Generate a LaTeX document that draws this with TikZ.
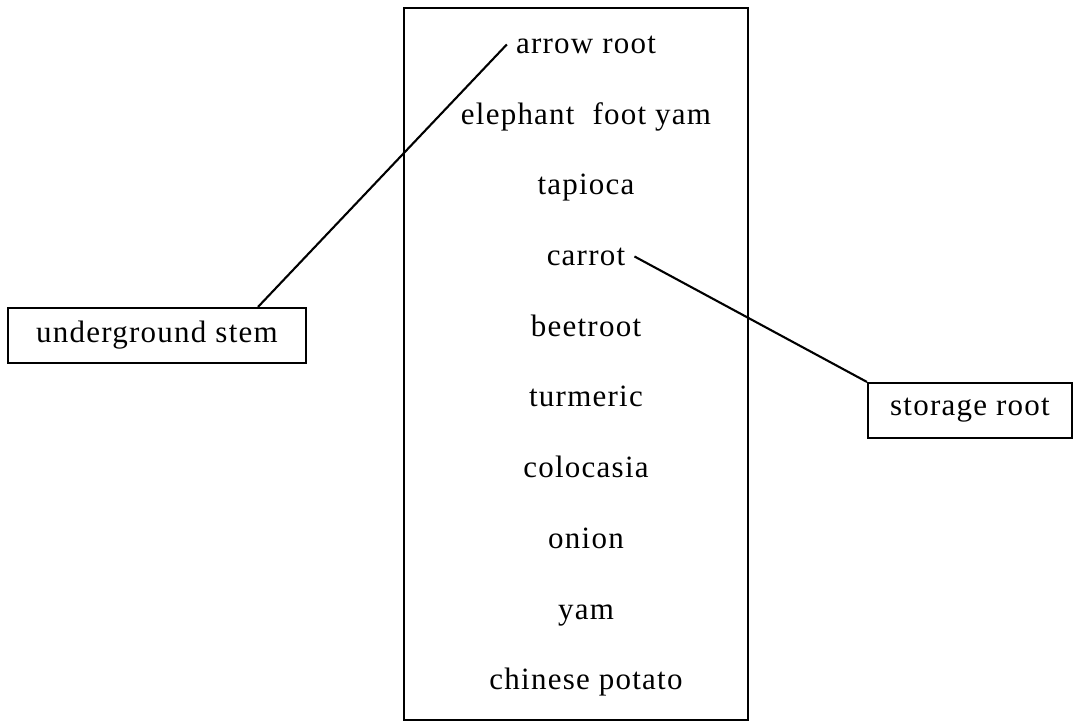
\documentclass[tikz,border=0pt]{standalone}
\usepackage{fontspec}
\setmainfont{Liberation Serif}[LetterSpace=4]
\usepackage{tikz}

\tikzset{
    item/.style={anchor=base,font=\fontsize{31}{37}\selectfont,inner sep=9pt},
    tag/.style={draw,line width=2.1pt,font=\fontsize{31}{37}\selectfont,minimum height=55pt,inner sep=0pt},
    link/.style={line width=2.1pt}
}

\begin{document}
\begin{tikzpicture}[x=1pt,y=-1pt]
    \useasboundingbox (0,0) rectangle (1075,724);
    \node[draw,line width=2.1pt,minimum width=344pt,minimum height=712pt] (list) at (576,364) {};
    \node[item] (arrowroot) at (586,53) {arrow root};
    \node[item] (eyam) at (586,124) {elephant\ \ foot yam};
    \node[item] (tapioca) at (586,194) {tapioca};
    \node[item] (carrot) at (586,265) {carrot};
    \node[item] (beetroot) at (586,336) {beetroot};
    \node[item] (turmeric) at (586,406) {turmeric};
    \node[item] (colocasia) at (586,477) {colocasia};
    \node[item] (onion) at (586,548) {onion};
    \node[item] (yam) at (586,619) {yam};
    \node[item] (cpotato) at (586,689) {chinese potato};
    \node[tag,minimum width=298pt] (ustem) at (157,335.5) {underground stem};
    \node[tag,minimum width=204pt] (sroot) at (970,410.5) {storage root};
    \draw[link] (arrowroot.west) -- ([xshift=101pt]ustem.north);
    \draw[link] (carrot.east) -- (sroot.north west);
  \end{tikzpicture}
\end{document}
